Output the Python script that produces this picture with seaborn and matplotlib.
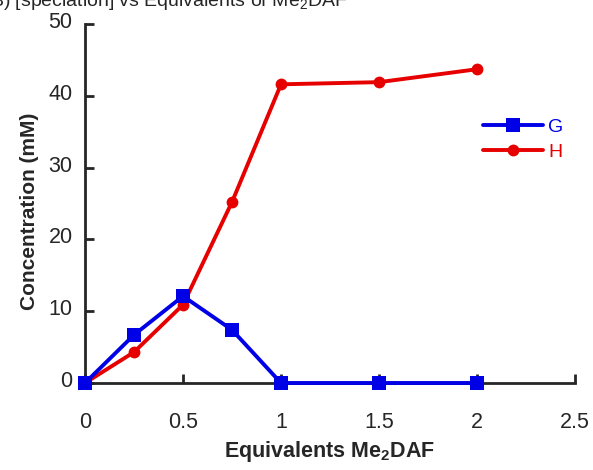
import pandas as pd
import matplotlib
matplotlib.use('Agg')
import matplotlib.pyplot as plt
import matplotlib.transforms as mtransforms
import seaborn as sns

# Data
equiv = [0, 0.25, 0.5, 0.75, 1, 1.5, 2]
conc_g = [0, 6.7, 12.1, 7.4, 0, 0, 0]
conc_h = [0, 4.3, 10.9, 25.2, 41.6, 41.9, 43.7]
x_ticks = [0, 0.5, 1, 1.5, 2, 2.5]
x_tick_labels = ['0', '0.5', '1', '1.5', '2', '2.5']
y_ticks = [0, 10, 20, 30, 40, 50]

blue = '#0000E6'
red = '#E60000'

df_g = pd.DataFrame({'eq': equiv, 'conc': conc_g})
df_h = pd.DataFrame({'eq': equiv, 'conc': conc_h})

sns.set_style("ticks")
plt.rcParams['font.family'] = ['Liberation Sans', 'DejaVu Sans']
plt.rcParams['mathtext.fontset'] = 'custom'
plt.rcParams['mathtext.bf'] = 'Liberation Sans:bold'
plt.rcParams['mathtext.rm'] = 'Liberation Sans'

fig = plt.figure(figsize=(5.93, 4.70), dpi=100)
ax = fig.add_axes([85 / 593, 1 - 383 / 470, 490 / 593, 359 / 470])

sns.lineplot(data=df_h, x='eq', y='conc', ax=ax, color=red, marker='o',
             markersize=8.5, markeredgewidth=0, linewidth=2.8, label='H')
sns.lineplot(data=df_g, x='eq', y='conc', ax=ax, color=blue, marker='s',
             markersize=10.5, markeredgewidth=0, linewidth=2.8, label='G')

ax.set_xlim(0, 2.5)
ax.set_ylim(0, 50)
ax.set_xticks(x_ticks)
ax.set_xticklabels(x_tick_labels)
ax.set_yticks(y_ticks)
ax.tick_params(direction='in', length=6.5, width=2, labelsize=15.5)
ax.tick_params(axis='x', pad=21)
ax.tick_params(axis='y', pad=9)
for s in ['top', 'right']:
    ax.spines[s].set_visible(False)
for s in ['left', 'bottom']:
    ax.spines[s].set_linewidth(2)
for i, line in enumerate(ax.lines):
    line.set_clip_on(False)
    line.set_zorder(3 + i)

# y tick labels sit slightly above their ticks in the reference
shift = mtransforms.ScaledTranslation(0, 4 / 100, fig.dpi_scale_trans)
for lbl in ax.get_yticklabels():
    lbl.set_transform(lbl.get_transform() + shift)

ax.set_xlabel(r'Equivalents Me$_\mathbf{2}$DAF', fontsize=15.5, fontweight='bold', labelpad=4)
ax.set_ylabel('Concentration (mM)', fontsize=15, fontweight='bold')
ax.yaxis.set_label_coords(-0.094, 0.479)

handles, labels = ax.get_legend_handles_labels()
order = [labels.index('G'), labels.index('H')]
ax.legend([handles[i] for i in order], [labels[i] for i in order],
          frameon=False, loc='upper left', bbox_to_anchor=(0.776, 0.785),
          handlelength=3.1, handletextpad=0.25, labelspacing=0.38,
          fontsize=14, labelcolor='linecolor')

fig.text(-0.017, 1 - 6 / 470, 'B) [speciation] vs Equivalents of Me$_2$DAF',
         fontsize=14, va='baseline', ha='left')

fig.savefig('out.png', dpi=100)
